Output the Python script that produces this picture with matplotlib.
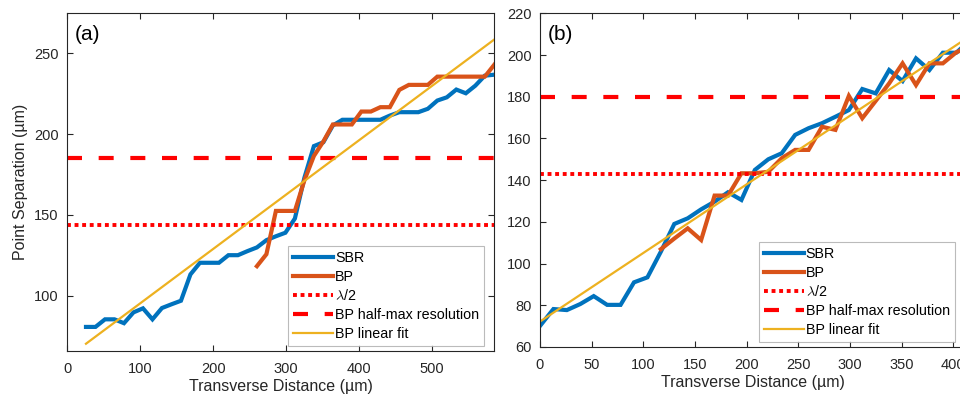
import matplotlib
matplotlib.use("Agg")
import matplotlib.pyplot as plt

plt.rcParams['font.family'] = ['Liberation Sans', 'DejaVu Sans']
plt.rcParams['mathtext.fontset'] = 'cm'

# ---------------- data: panel (a) ----------------
sbr_a_x = [26, 39, 52, 65, 78, 91, 104, 117, 130, 143, 156, 169, 182, 195, 208, 221,
           234, 247, 260, 273, 286, 299, 312, 325, 338, 351, 364, 377, 390, 403, 416,
           429, 442, 455, 468, 481, 494, 507, 520, 533, 546, 559, 572, 585]
sbr_a_y = [80.7, 80.7, 85.4, 85.4, 83.0, 89.7, 92.2, 85.4, 92.4, 94.7, 96.9, 113.2,
           120.4, 120.4, 120.4, 125.1, 125.1, 127.6, 129.9, 134.4, 136.8, 139.0, 147.8,
           173.0, 192.6, 195.0, 205.4, 208.9, 208.9, 208.9, 208.9, 208.9, 211.5, 213.6,
           213.6, 213.6, 215.7, 220.8, 222.8, 227.6, 225.3, 230.0, 236.2, 236.8]
bp_a_x = [260, 273, 286, 299, 312, 325, 338, 351, 364, 377, 390, 403, 416, 429, 442,
          455, 468, 481, 494, 507, 520, 533, 546, 559, 572, 585]
bp_a_y = [118.3, 125.7, 152.5, 152.5, 152.5, 171.4, 186.5, 195.5, 206.0, 206.0, 206.0,
          214.0, 214.0, 216.7, 216.7, 227.4, 230.5, 230.5, 230.5, 235.6, 235.6, 235.6,
          235.6, 235.6, 235.6, 243.0]
fit_a_x = [26, 585]
fit_a_y = [70.3, 258.6]
halfwave_a = 143.5
halfmax_a = 185.2

# ---------------- data: panel (b) ----------------
sbr_b_x = [0, 13, 26, 39, 52, 65, 78, 91, 104, 117, 130, 143, 156, 169, 182, 195, 208,
           221, 234, 247, 260, 273, 286, 299, 312, 325, 338, 351, 364, 377, 390, 403, 416]
sbr_b_y = [70.1, 78.2, 77.7, 80.6, 84.4, 80.2, 80.2, 91.0, 93.4, 105.7, 119.0, 121.7,
           126.0, 129.7, 134.2, 130.5, 144.9, 150.0, 152.9, 161.7, 164.9, 167.3, 170.4,
           173.6, 183.7, 181.6, 192.8, 187.5, 198.4, 192.8, 201.1, 201.1, 207.0]
bp_b_x = [117, 130, 143, 156, 169, 182, 195, 208, 221, 234, 247, 260, 273, 286, 299,
          312, 325, 338, 351, 364, 377, 390, 403, 416]
bp_b_y = [106.9, 112.0, 116.9, 111.3, 132.6, 132.6, 143.3, 143.3, 144.0, 150.5, 154.5,
          154.5, 165.6, 164.1, 180.4, 169.7, 178.0, 186.4, 196.0, 185.6, 196.0, 196.0,
          201.3, 204.0]
fit_b_x = [0, 416]
fit_b_y = [72.2, 209.0]
halfwave_b = 142.9
halfmax_b = 180.1

labels = ['SBR', 'BP', r'$\lambda$/2', 'BP half-max resolution', 'BP linear fit']

C_BLUE = '#0072BD'
C_ORANGE = '#D95319'
C_YELLOW = '#EDB120'
C_RED = '#FF0000'
TXT = '#262626'

W, H = 960, 397
fig = plt.figure(figsize=(W / 100, H / 100), dpi=100)


def px_axes(l, t, r, b):
    return fig.add_axes([l / W, 1 - b / H, (r - l) / W, (b - t) / H])


def draw(ax, sx, sy, bx, by, fx, fy, hw, hm, xlim, ylim, xticks, yticks, tag, leg_anchor):
    ax.plot(sx, sy, color=C_BLUE, lw=3.0, solid_joinstyle='miter', label=labels[0])
    ax.plot(bx, by, color=C_ORANGE, lw=3.0, solid_joinstyle='miter', label=labels[1])
    ax.axhline(hw, color=C_RED, lw=2.8, linestyle=(0, (1.0, 0.95)), label=labels[2])
    ax.axhline(hm, color=C_RED, lw=3.0, linestyle=(0, (3.6, 4.0)), label=labels[3])
    ax.plot(fx, fy, color=C_YELLOW, lw=1.6, label=labels[4])
    ax.set_xlim(*xlim)
    ax.set_ylim(*ylim)
    ax.set_xticks(xticks)
    ax.set_yticks(yticks)
    ax.tick_params(direction='in', length=4.5, width=0.8, top=True, right=True,
                   labelsize=10.5, colors=TXT)
    ax.tick_params(axis='x', pad=8)
    ax.tick_params(axis='y', pad=6)
    for s in ax.spines.values():
        s.set_color(TXT)
        s.set_linewidth(0.8)
    ax.set_xlabel('Transverse Distance (µm)', fontsize=11.5, color=TXT, labelpad=2)
    ax.text(0.018, 0.965, tag, transform=ax.transAxes, fontsize=15, va='top', ha='left',
            color='black')
    leg = ax.legend(loc='lower right', bbox_to_anchor=leg_anchor, borderaxespad=0,
                    fontsize=10.3, frameon=True, fancybox=False, handlelength=2.75,
                    handletextpad=0.15, labelspacing=0.33, borderpad=0.35)
    leg.get_frame().set_edgecolor('#aaaaaa')
    leg.get_frame().set_linewidth(0.8)
    for t in leg.get_texts():
        t.set_color('black')


ax_a = px_axes(67, 13.3, 494.3, 351)
draw(ax_a, sbr_a_x, sbr_a_y, bp_a_x, bp_a_y, fit_a_x, fit_a_y, halfwave_a, halfmax_a,
     (0, 585), (65.8, 274.8), [0, 100, 200, 300, 400, 500], [100, 150, 200, 250], '(a)',
     (0.976, 0.0157))
ax_a.set_ylabel('Point Separation (µm)', fontsize=11.5, color=TXT, labelpad=4)

ax_b = px_axes(540, 13.3, 966, 347)
draw(ax_b, sbr_b_x, sbr_b_y, bp_b_x, bp_b_y, fit_b_x, fit_b_y, halfwave_b, halfmax_b,
     (0, 412.4), (60, 220), [0, 50, 100, 150, 200, 250, 300, 350, 400],
     [60, 80, 100, 120, 140, 160, 180, 200, 220], '(b)', (0.974, 0.0159))

fig.savefig('out.png', dpi=100)
